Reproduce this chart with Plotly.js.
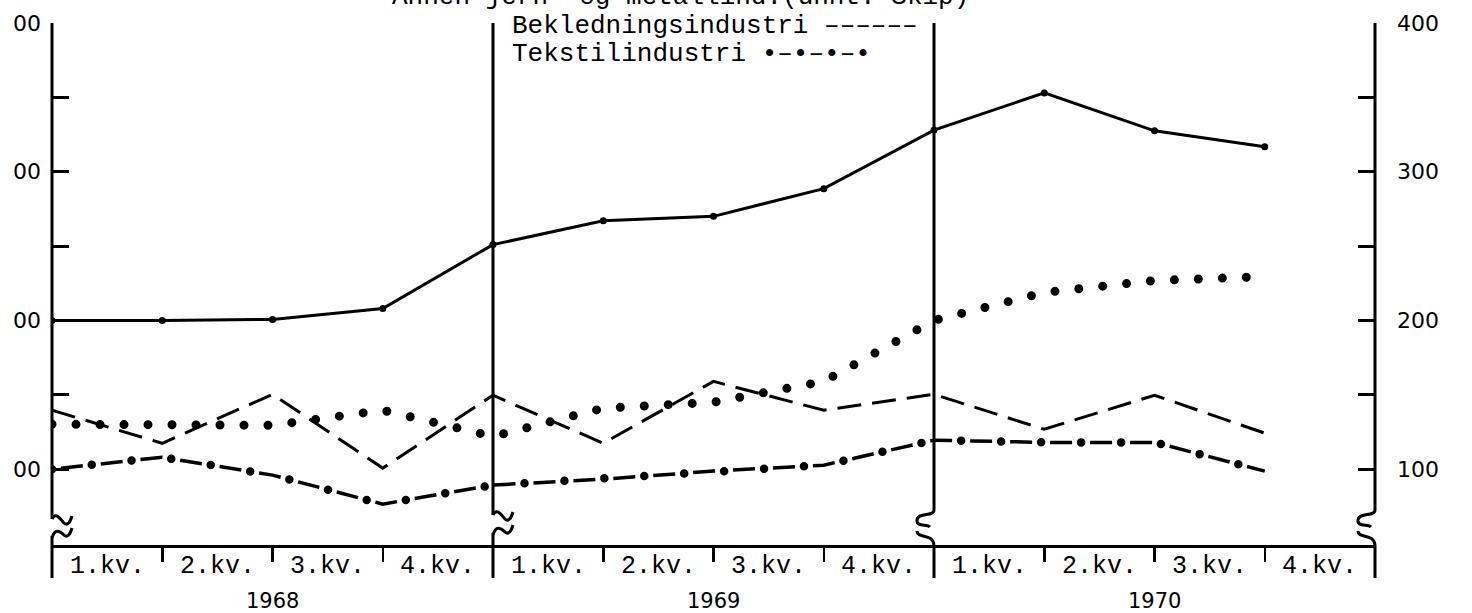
<!DOCTYPE html>
<html><head><meta charset="utf-8">
<script src="https://cdn.plot.ly/plotly-3.0.1.min.js"></script>
<style>html,body{margin:0;padding:0;background:#fff;} #chart{width:1472px;height:613px;}</style>
</head><body><div id="chart"></div>
<script>
// ---- data (index = quarter boundary: 0 = start of 1968 1.kv.) ----
const periods = [0,1,2,3,4,5,6,7,8,9,10,11];
const solidSeries     = [200, 200, 200.7, 208, 251, 267, 270, 288.6, 328, 353, 327.5, 316.8];
const annenJernMetall = [130.2, 129.5, 129.5, 139.6, 122, 141, 145, 159, 200, 218.8, 226.8, 229.5];
const bekledning      = [139.6, 117.4, 150.3, 100.7, 149.7, 117.4, 159, 139.6, 150.3, 126.8, 149.7, 124.2];
const tekstil         = [100, 108, 96, 76.5, 89.3, 93.3, 98.7, 102.7, 119.5, 118, 118, 98.7];

const boundaryTicks = [0,1,2,3,4,5,6,7,8,9,10,11,12];
const quarterCenters = [0.5,1.5,2.5,3.5,4.5,5.5,6.5,7.5,8.5,9.5,10.5,11.5];
const quarterLabels = ["1.kv.","2.kv.","3.kv.","4.kv.","1.kv.","2.kv.","3.kv.","4.kv.","1.kv.","2.kv.","3.kv.","4.kv."];
const yearCenters = [2,6,10];
const yearLabels = ["1968","1969","1970"];
const yearBoundaries = [0,4,8,12];
const yTickVals = [100,150,200,250,300,350,400];
const yTickTextRight = ["100","","200","","300","","400"];
const yTickTextLeft  = ["00","","00","","00","","00"];
const legendLines = ["Bekledningsindustri ––––––","Tekstilindustri •–•–•–•"];
const cutTitle = "Annen jern- og metallind.(unnt. Skip)";

// ---- geometry helpers ----
const W=1472, H=613, M={l:52, r:97, t:23, b:68};
const PW=W-M.l-M.r, PH=H-M.t-M.b;
const px = x => (x-M.l)/PW;
const py = y => (H-M.b-y)/PH;
const P = (x,y) => px(x).toFixed(5)+','+py(y).toFixed(5);
const qx = q => M.l + q*PW/12;

const K='#000';
const traces = [
  {x:periods, y:annenJernMetall, mode:'lines', line:{color:K, width:9, dash:'0px,24px'}, hoverinfo:'skip'},
  {x:periods, y:bekledning, mode:'lines', line:{color:K, width:3, dash:'24px,11px'}, hoverinfo:'skip'},
  {x:periods, y:tekstil, mode:'lines', line:{color:K, width:3.5, dash:'0px,9px,22px,9px'}, hoverinfo:'skip'},
  {x:periods, y:tekstil, mode:'lines', line:{color:K, width:8.5, dash:'0px,40px'}, hoverinfo:'skip'},
  {x:periods, y:solidSeries, yaxis:'y2', mode:'lines+markers', line:{color:K, width:3}, marker:{color:K, size:7}, hoverinfo:'skip'}
];

// ---- decorative axis lines with break symbols ----
const shapes = [];
yearBoundaries.forEach(q => {
  const x = qx(q);
  const tilde = (q===0 || q===4);
  const topBreak = tilde ? (q===0?519:515) : 510;
  const botBreak = tilde ? (q===0?536:533) : 545;
  shapes.push({type:'line', xref:'paper', yref:'paper', x0:px(x), x1:px(x), y0:1, y1:py(topBreak), line:{color:K, width:3}});
  shapes.push({type:'line', xref:'paper', yref:'paper', x0:px(x), x1:px(x), y0:py(botBreak), y1:py(578), line:{color:K, width:3}});
  let p1, p2;
  if (tilde) {
    const a=topBreak, b=botBreak;
    p1 = `M${P(x,a)} C${P(x+4,a-8)} ${P(x+9,a+1)} ${P(x+12,a+4)} C${P(x+15,a+7)} ${P(x+18,a+4)} ${P(x+20,a-3)}`;
    p2 = `M${P(x,b+2)} C${P(x+3,b-9)} ${P(x+9,b-4)} ${P(x+12,b-1)} C${P(x+15,b+2)} ${P(x+18,b-1)} ${P(x+20,b-8)}`;
  } else {
    p1 = `M${P(x,510)} C${P(x,517)} ${P(x-16,512)} ${P(x-17,520)} C${P(x-18,527)} ${P(x-7,524)} ${P(x-4,527)}`;
    p2 = `M${P(x-17,531)} C${P(x-17,539)} ${P(x-1,533)} ${P(x,545)}`;
  }
  shapes.push({type:'path', xref:'paper', yref:'paper', path:p1, line:{color:K, width:3}});
  shapes.push({type:'path', xref:'paper', yref:'paper', path:p2, line:{color:K, width:3}});
});

// ---- text ----
const mono = 'Liberation Mono, Courier New, monospace';
const sans = 'DejaVu Sans, Arial, sans-serif';
const annotations = [];
quarterLabels.forEach((t,i) => annotations.push({xref:'x', yref:'paper', x:quarterCenters[i], y:py(566), text:t, showarrow:false, yanchor:'middle', font:{family:mono, size:25, color:K}}));
yearLabels.forEach((t,i) => annotations.push({xref:'x', yref:'paper', x:yearCenters[i], y:py(601), text:t, showarrow:false, yanchor:'middle', font:{family:sans, size:21, color:K}}));
legendLines.forEach((t,i) => annotations.push({xref:'paper', yref:'paper', x:px(510), y:py(26+i*28), text:t, showarrow:false, xanchor:'left', yanchor:'middle', font:{family:mono, size:26, color:K}}));
annotations.push({xref:'paper', yref:'paper', x:px(390), y:py(-3), text:cutTitle, showarrow:false, xanchor:'left', yanchor:'middle', font:{family:mono, size:26, color:K}});

const yCommon = {range:[49,400], tickvals:yTickVals, ticks:'inside', ticklen:17, tickwidth:3, tickcolor:K,
  showline:false, showgrid:false, zeroline:false, automargin:false, fixedrange:true, tickfont:{family:sans, size:22, color:K}};

const layout = {
  width:W, height:H, margin:M, paper_bgcolor:'#fff', plot_bgcolor:'#fff', showlegend:false,
  xaxis:{range:[0,12], tickvals:boundaryTicks, ticks:'outside', ticklen:14, tickwidth:2.5, tickcolor:K, showticklabels:false,
    showline:true, linewidth:3, linecolor:K, showgrid:false, zeroline:false, automargin:false, fixedrange:true},
  yaxis:Object.assign({}, yCommon, {side:'left', ticktext:yTickTextLeft, ticklabelstandoff:10}),
  yaxis2:Object.assign({}, yCommon, {side:'right', overlaying:'y', ticktext:yTickTextRight, ticklabelstandoff:21}),
  shapes:shapes, annotations:annotations
};

Plotly.newPlot('chart', traces, layout, {staticPlot:true, displayModeBar:false}).then(() => {
  document.querySelectorAll('#chart .js-line').forEach(p => {
    const w = parseFloat(p.style.strokeWidth || p.getAttribute('stroke-width') || '0');
    if (w >= 7) p.style.strokeLinecap = 'round';
  });
});
</script></body></html>
